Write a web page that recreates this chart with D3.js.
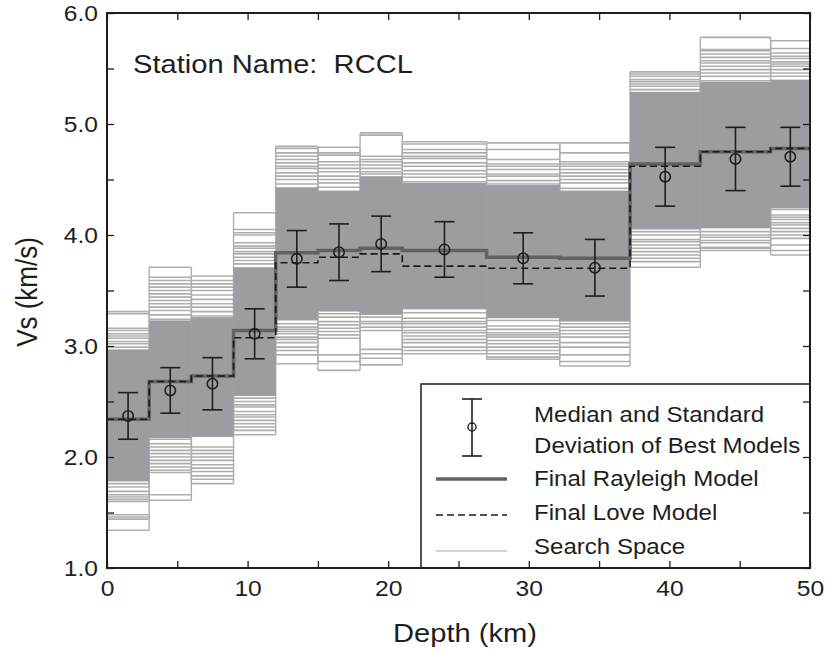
<!DOCTYPE html>
<html>
<head>
<meta charset="utf-8">
<script src="https://cdn.jsdelivr.net/npm/d3@7"></script>
<style>
  body { margin: 0; background: #fff; }
  text { font-family: "Liberation Sans", Arial, Helvetica, sans-serif; fill: #1e1e1e; white-space: pre; }
</style>
</head>
<body>
<svg id="chart" width="827" height="650"></svg>
<script>
// Layer boundaries (km) of the shear-velocity model
const depthBounds = [0, 3, 6, 9, 12, 15, 18, 21, 27, 32.2, 37.2, 42.2, 47.2, 50];

// Final models, one Vs value per layer (km/s)
const rayleighVs = [2.34, 2.68, 2.73, 3.14, 3.84, 3.86, 3.88, 3.86, 3.80, 3.79, 4.64, 4.75, 4.78];
const loveVs     = [2.34, 2.68, 2.73, 3.075, 3.75, 3.80, 3.83, 3.72, 3.70, 3.70, 4.62, 4.75, 4.78];

// Median and standard deviation of the best models
const medianDepth = [1.5, 4.5, 7.5, 10.5, 13.5, 16.5, 19.5, 24, 29.6, 34.7, 39.7, 44.7, 48.6];
const medianVs    = [2.37, 2.60, 2.66, 3.11, 3.785, 3.845, 3.92, 3.87, 3.79, 3.705, 4.525, 4.685, 4.705];
const stdVs       = [0.21, 0.205, 0.235, 0.225, 0.255, 0.255, 0.25, 0.25, 0.23, 0.255, 0.265, 0.285, 0.265];

// Search space per layer: full extent and the densely sampled core
const searchMin = [1.34, 1.61, 1.76, 2.20, 2.84, 2.78, 2.83, 2.93, 2.88, 2.82, 3.71, 3.86, 3.82];
const searchMax = [3.31, 3.71, 3.63, 4.20, 4.80, 4.79, 4.92, 4.84, 4.83, 4.83, 5.47, 5.78, 5.75];
const coreLow   = [1.78, 2.17, 2.18, 2.55, 3.23, 3.31, 3.28, 3.33, 3.25, 3.22, 4.05, 4.06, 4.24];
const coreHigh  = [2.97, 3.23, 3.26, 3.71, 4.43, 4.40, 4.53, 4.47, 4.45, 4.40, 5.29, 5.38, 5.40];

// Individual search-space models outside the dense core
const searchLines = [
  [3.29, 3.16, 3.14, 3.11, 3.09, 3.07, 3.04, 3.02, 2.99, 1.76, 1.73, 1.69, 1.66, 1.64, 1.62, 1.60, 1.48, 1.46, 1.44],
  [3.62, 3.59, 3.56, 3.53, 3.50, 3.47, 3.44, 3.41, 3.38, 3.35, 3.32, 3.28, 3.24, 2.16, 2.12, 2.09, 2.06, 2.03, 2.00, 1.97, 1.94, 1.91, 1.88, 1.86, 1.66],
  [3.59, 3.56, 3.53, 3.50, 3.46, 3.42, 3.38, 3.35, 3.31, 3.27, 2.09, 2.06, 2.03, 2.00, 1.97, 1.93, 1.90, 1.87, 1.83, 1.80],
  [4.05, 4.02, 4.00, 3.93, 3.90, 3.88, 3.85, 3.83, 3.80, 3.77, 3.74, 2.53, 2.50, 2.47, 2.45, 2.41, 2.38, 2.36, 2.33, 2.30, 2.27, 2.24],
  [4.78, 4.74, 4.71, 4.68, 4.65, 4.62, 4.60, 4.56, 4.53, 4.50, 4.46, 3.20, 3.17, 3.15, 3.13, 3.11, 3.08, 3.06, 3.03, 2.99, 2.96, 2.92],
  [4.74, 4.72, 4.66, 4.63, 4.60, 4.57, 4.53, 4.50, 4.47, 4.43, 3.29, 3.26, 3.22, 3.19, 3.16, 3.13, 3.10, 3.07, 2.92, 2.86],
  [4.90, 4.71, 4.68, 4.66, 4.63, 4.60, 4.57, 4.55, 3.26, 3.22, 3.20, 3.17, 3.14, 2.97, 2.93, 2.89],
  [4.82, 4.77, 4.74, 4.71, 4.69, 4.65, 4.62, 4.58, 4.55, 4.52, 4.48, 3.30, 3.25, 3.22, 3.20, 3.17, 3.14, 3.12, 3.09, 3.06, 3.03, 2.99, 2.96],
  [4.77, 4.68, 4.64, 4.62, 4.59, 4.55, 4.53, 4.49, 4.46, 3.23, 3.18, 3.15, 3.12, 3.10, 3.08, 3.05, 3.02, 2.99, 2.96, 2.93, 2.90],
  [4.74, 4.66, 4.64, 4.62, 4.59, 4.56, 4.53, 4.50, 4.47, 4.42, 4.37, 3.20, 3.17, 3.14, 3.11, 3.08, 3.03, 2.99, 2.92, 2.86],
  [5.45, 5.43, 5.40, 5.38, 5.36, 5.34, 5.31, 4.03, 4.00, 3.96, 3.94, 3.91, 3.88, 3.85, 3.82, 3.79, 3.76],
  [5.67, 5.66, 5.63, 5.60, 5.57, 5.55, 5.52, 5.49, 5.46, 5.43, 5.39, 4.03, 4.00, 3.98, 3.95, 3.93, 3.89, 3.88],
  [5.68, 5.64, 5.61, 5.59, 5.56, 5.54, 5.52, 5.49, 5.46, 5.43, 4.23, 4.18, 4.16, 4.14, 4.11, 4.09, 4.06, 4.03, 4.00, 3.97, 3.91, 3.86]
];

// Axis ticks
const xTickValues = [0, 5, 10, 15, 20, 25, 30, 35, 40, 45, 50];
const xTickLabels = [0, 10, 20, 30, 40, 50];
const yTickValues = [1.0, 1.5, 2.0, 2.5, 3.0, 3.5, 4.0, 4.5, 5.0, 5.5, 6.0];
const yTickLabels = [1.0, 2.0, 3.0, 4.0, 5.0, 6.0];

const stationName = "Station Name:  RCCL";
const legendLabels = [
  ["Median and Standard", "Deviation of Best Models"],
  ["Final Rayleigh Model"],
  ["Final Love Model"],
  ["Search Space"]
];

// ---------------------------------------------------------------
const W = 827, H = 650;
const margin = { left: 107, right: 17, top: 13, bottom: 82 };
const iw = W - margin.left - margin.right;
const ih = H - margin.top - margin.bottom;
const SX = 1.12;           // horizontal text stretch
const ink = "#1e1e1e";
const coreColor = "#9c9da0";
const lineColor = "#aeaeae";

const svg = d3.select("#chart");
const g = svg.append("g").attr("transform", `translate(${margin.left},${margin.top})`);

const x = d3.scaleLinear().domain([0, 50]).range([0, iw]);
const y = d3.scaleLinear().domain([1, 6]).range([ih, 0]);

const layers = rayleighVs.map((_, i) => ({ i, d0: depthBounds[i], d1: depthBounds[i + 1] }));

// Search space: vertical edges of every layer
const space = g.append("g");
layers.forEach(L => {
  [L.d0, L.d1].forEach(d => {
    space.append("line")
      .attr("x1", x(d)).attr("x2", x(d))
      .attr("y1", y(searchMin[L.i])).attr("y2", y(searchMax[L.i]))
      .attr("stroke", lineColor).attr("stroke-width", 1.4);
  });
});

// Search space: horizontal model lines
layers.forEach(L => {
  const vals = [searchMin[L.i], searchMax[L.i]].concat(searchLines[L.i]);
  space.selectAll(null).data(vals).enter().append("line")
    .attr("x1", x(L.d0)).attr("x2", x(L.d1))
    .attr("y1", v => y(v)).attr("y2", v => y(v))
    .attr("stroke", lineColor).attr("stroke-width", 1.6);
});

// Search space: dense core
space.selectAll("rect.core").data(layers).enter().append("rect")
  .attr("class", "core")
  .attr("x", L => x(L.d0))
  .attr("width", L => x(L.d1) - x(L.d0))
  .attr("y", L => y(coreHigh[L.i]))
  .attr("height", L => y(coreLow[L.i]) - y(coreHigh[L.i]))
  .attr("fill", coreColor);

// Step profiles for the final models
const stepPoints = vs => vs.map((v, i) => [depthBounds[i], v]).concat([[depthBounds[vs.length], vs[vs.length - 1]]]);
const step = d3.line().x(d => x(d[0])).y(d => y(d[1])).curve(d3.curveStepAfter);

g.append("path").datum(stepPoints(rayleighVs))
  .attr("d", step).attr("fill", "none")
  .attr("stroke", "#626262").attr("stroke-width", 3.5);

g.append("path").datum(stepPoints(loveVs))
  .attr("d", step).attr("fill", "none")
  .attr("stroke", "#1a1a1a").attr("stroke-width", 1.6).attr("stroke-dasharray", "7,4");

// Median and standard deviation
const capW = 10;
const eb = g.selectAll("g.eb").data(medianVs.map((m, i) => ({ d: medianDepth[i], m, s: stdVs[i] })))
  .enter().append("g").attr("class", "eb");
eb.append("line")
  .attr("x1", d => x(d.d)).attr("x2", d => x(d.d))
  .attr("y1", d => y(d.m - d.s)).attr("y2", d => y(d.m + d.s));
eb.append("line")
  .attr("x1", d => x(d.d) - capW).attr("x2", d => x(d.d) + capW)
  .attr("y1", d => y(d.m + d.s)).attr("y2", d => y(d.m + d.s));
eb.append("line")
  .attr("x1", d => x(d.d) - capW).attr("x2", d => x(d.d) + capW)
  .attr("y1", d => y(d.m - d.s)).attr("y2", d => y(d.m - d.s));
eb.selectAll("line").attr("stroke", ink).attr("stroke-width", 1.6);
eb.append("circle")
  .attr("cx", d => x(d.d)).attr("cy", d => y(d.m)).attr("r", 5.2)
  .attr("fill", "none").attr("stroke", ink).attr("stroke-width", 1.6);

// Legend
const lg = g.append("g").attr("transform", `translate(${421 - margin.left},${384 - margin.top})`);
const lgW = iw - (421 - margin.left), lgH = ih - (384 - margin.top);
lg.append("rect").attr("width", lgW).attr("height", lgH)
  .attr("fill", "#fff").attr("stroke", ink).attr("stroke-width", 1.5);
// error-bar symbol
const sx0 = 51, syTop = 15, syBot = 72, syMid = 43;
lg.append("line").attr("x1", sx0).attr("x2", sx0).attr("y1", syTop).attr("y2", syBot);
lg.append("line").attr("x1", sx0 - 10).attr("x2", sx0 + 10).attr("y1", syTop).attr("y2", syTop);
lg.append("line").attr("x1", sx0 - 10).attr("x2", sx0 + 10).attr("y1", syBot).attr("y2", syBot);
lg.selectAll("line").attr("stroke", ink).attr("stroke-width", 1.6);
lg.append("circle").attr("cx", sx0).attr("cy", syMid).attr("r", 4)
  .attr("fill", "none").attr("stroke", ink).attr("stroke-width", 1.4);
// line symbols
lg.append("line").attr("x1", 15).attr("x2", 86).attr("y1", 95).attr("y2", 95)
  .attr("stroke", "#626262").attr("stroke-width", 3.5);
lg.append("line").attr("x1", 15).attr("x2", 86).attr("y1", 131).attr("y2", 131)
  .attr("stroke", "#1a1a1a").attr("stroke-width", 1.6).attr("stroke-dasharray", "7,4");
lg.append("line").attr("x1", 15).attr("x2", 86).attr("y1", 167).attr("y2", 167)
  .attr("stroke", "#aaaaaa").attr("stroke-width", 1.1);
// legend text
const lgBaselines = [[38, 68.5], [102], [136], [170]];
legendLabels.forEach((lines, k) => {
  lines.forEach((t, j) => {
    lg.append("text")
      .attr("transform", `translate(113,${lgBaselines[k][j]}) scale(${SX},1)`)
      .attr("font-size", 21.5).text(t);
  });
});

// Station label
g.append("text")
  .attr("transform", `translate(${133 - margin.left},${73 - margin.top}) scale(${SX},1)`)
  .attr("xml:space", "preserve")
  .attr("font-size", 26).text(stationName);

// Axes: inward ticks on all four sides
const tickStyle = sel => {
  sel.select(".domain").remove();
  sel.selectAll(".tick line").attr("stroke", ink).attr("stroke-width", 1.3);
  sel.selectAll("text").attr("fill", ink).attr("font-size", 22)
    .attr("font-family", "\"Liberation Sans\", Arial, Helvetica, sans-serif");
};

const xb = g.append("g").attr("transform", `translate(0,${ih})`)
  .call(d3.axisBottom(x).tickValues(xTickValues).tickSizeInner(-7).tickSizeOuter(0).tickPadding(12)
    .tickFormat(d => xTickLabels.includes(d) ? d3.format("d")(d) : ""));
tickStyle(xb);
xb.selectAll("text").attr("transform", `scale(${SX},1)`);

const yl = g.append("g")
  .call(d3.axisLeft(y).tickValues(yTickValues).tickSizeInner(-7).tickSizeOuter(0).tickPadding(9)
    .tickFormat(d => yTickLabels.includes(d) ? d3.format(".1f")(d) : ""));
tickStyle(yl);
yl.selectAll("text").attr("x", -9 / SX).attr("transform", `scale(${SX},1)`);

const xt = g.append("g")
  .call(d3.axisTop(x).tickValues(xTickValues).tickSizeInner(-7).tickSizeOuter(0).tickFormat(""));
tickStyle(xt);
const yr = g.append("g").attr("transform", `translate(${iw},0)`)
  .call(d3.axisRight(y).tickValues(yTickValues).tickSizeInner(-7).tickSizeOuter(0).tickFormat(""));
tickStyle(yr);

// Frame
g.append("rect").attr("width", iw).attr("height", ih)
  .attr("fill", "none").attr("stroke", ink).attr("stroke-width", 2);

// Axis titles
svg.append("text")
  .attr("transform", `translate(465,642) scale(${SX},1)`)
  .attr("text-anchor", "middle").attr("font-size", 26).text("Depth (km)");
svg.append("text")
  .attr("transform", `translate(37,292) scale(${SX},1) rotate(-90)`)
  .attr("text-anchor", "middle").attr("font-size", 26).text("Vs (km/s)");
</script>
</body>
</html>
